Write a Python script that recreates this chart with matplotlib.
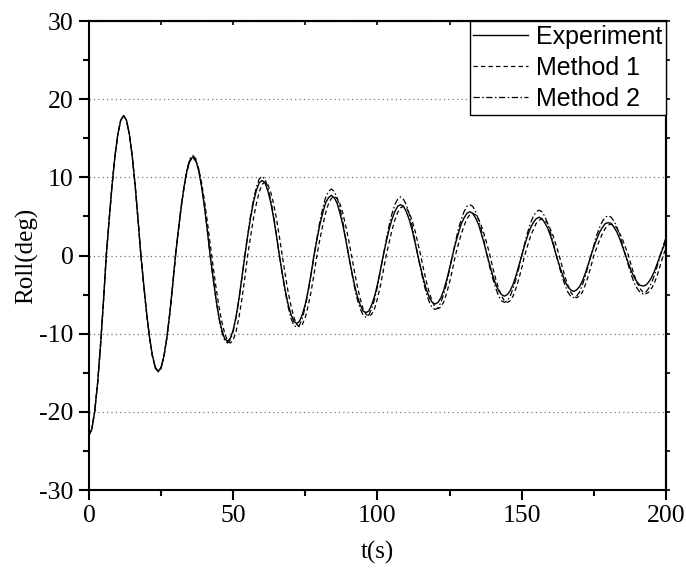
import numpy as np
import matplotlib
matplotlib.use("Agg")
import matplotlib.pyplot as plt
from matplotlib.ticker import MultipleLocator

# Roll decay records, one sample per second from 0 s to 200 s
time_s = np.arange(0, 201, 1)

roll_experiment = [
    -23.0, -22.2, -19.9, -16.3, -11.5, -6.0, 0.0, 4.6, 9.0, 12.7, 15.5, 17.3,
    17.9, 17.3, 15.5, 12.7, 9.0, 4.6, 0.0, -3.8, -7.4, -10.5, -12.8, -14.3,
    -14.8, -14.3, -12.8, -10.5, -7.4, -3.8, 0.0, 3.3, 6.3, 8.9, 10.9, 12.2,
    12.6, 12.2, 10.9, 8.9, 6.3, 3.3, 0.0, -2.8, -5.5, -7.8, -9.5, -10.6,
    -11.0, -10.6, -9.5, -7.8, -5.5, -2.8, 0.0, 2.5, 4.8, 6.8, 8.3, 9.3,
    9.6, 9.3, 8.3, 6.8, 4.8, 2.5, 0.0, -2.3, -4.4, -6.2, -7.5, -8.4,
    -8.7, -8.4, -7.5, -6.2, -4.4, -2.3, 0.0, 2.0, 3.9, 5.4, 6.7, 7.4,
    7.7, 7.4, 6.7, 5.4, 3.9, 2.0, 0.0, -1.9, -3.7, -5.2, -6.3, -7.1,
    -7.3, -7.1, -6.3, -5.2, -3.7, -1.9, 0.0, 1.7, 3.3, 4.6, 5.6, 6.3,
    6.5, 6.3, 5.6, 4.6, 3.3, 1.7, 0.0, -1.6, -3.1, -4.4, -5.4, -6.0,
    -6.2, -6.0, -5.4, -4.4, -3.1, -1.6, 0.0, 1.5, 2.8, 4.0, 4.8, 5.4,
    5.6, 5.4, 4.8, 4.0, 2.8, 1.5, 0.0, -1.3, -2.6, -3.7, -4.5, -5.0,
    -5.2, -5.0, -4.5, -3.7, -2.6, -1.3, 0.0, 1.3, 2.5, 3.5, 4.2, 4.7,
    4.9, 4.7, 4.2, 3.5, 2.5, 1.3, 0.0, -1.2, -2.3, -3.3, -4.0, -4.4,
    -4.6, -4.4, -4.0, -3.3, -2.3, -1.2, 0.0, 1.1, 2.1, 3.0, 3.6, 4.1,
    4.2, 4.1, 3.6, 3.0, 2.1, 1.1, 0.0, -1.0, -2.0, -2.8, -3.4, -3.8,
    -3.9, -3.8, -3.4, -2.8, -2.0, -1.0, 0.0, 1.0, 1.9,
]

roll_method1 = [
    -23.0, -22.2, -19.9, -16.3, -11.5, -6.0, 0.0, 4.6, 9.0, 12.7, 15.5, 17.3,
    17.9, 17.3, 15.5, 12.7, 9.0, 4.6, 0.0, -3.9, -7.5, -10.5, -12.9, -14.4,
    -14.9, -14.4, -12.9, -10.5, -7.5, -3.9, 0.0, 3.2, 6.3, 8.8, 10.8, 12.1,
    12.5, 12.1, 11.1, 9.4, 7.1, 4.4, 1.5, -1.3, -4.0, -6.4, -8.4, -9.9, -10.9,
    -11.2, -10.8, -9.7, -7.9, -5.6, -2.9, 0.0, 2.4, 4.7, 6.6, 8.1, 9.1,
    9.4, 9.1, 8.1, 6.6, 4.7, 2.4, 0.0, -2.4, -4.6, -6.4, -7.9, -8.8,
    -9.1, -8.8, -7.9, -6.4, -4.6, -2.4, 0.0, 2.0, 3.8, 5.4, 6.6, 7.3,
    7.6, 7.3, 6.6, 5.4, 3.8, 2.0, 0.0, -2.0, -3.9, -5.5, -6.8, -7.5,
    -7.8, -7.5, -6.8, -5.5, -3.9, -2.0, 0.0, 1.6, 3.2, 4.5, 5.5, 6.1,
    6.3, 6.1, 5.5, 4.5, 3.2, 1.6, 0.0, -1.8, -3.4, -4.8, -5.9, -6.6,
    -6.8, -6.6, -5.9, -4.8, -3.4, -1.8, 0.0, 1.4, 2.7, 3.8, 4.7, 5.2,
    5.4, 5.2, 4.7, 3.8, 2.7, 1.4, 0.0, -1.6, -3.0, -4.2, -5.2, -5.8,
    -6.0, -5.8, -5.2, -4.2, -3.0, -1.6, 0.0, 1.2, 2.4, 3.3, 4.1, 4.5,
    4.7, 4.5, 4.1, 3.3, 2.4, 1.2, 0.0, -1.4, -2.7, -3.8, -4.7, -5.2,
    -5.4, -5.2, -4.7, -3.8, -2.7, -1.4, 0.0, 1.0, 2.0, 2.8, 3.5, 3.9,
    4.0, 3.9, 3.5, 2.8, 2.0, 1.0, 0.0, -1.3, -2.5, -3.5, -4.2, -4.7,
    -4.9, -4.7, -4.2, -3.5, -2.5, -1.3, 0.0, 0.9,
]

roll_method2 = [
    -23.0, -22.2, -19.9, -16.3, -11.5, -6.0, 0.0, 4.6, 9.0, 12.7, 15.5, 17.3,
    17.9, 17.3, 15.5, 12.7, 9.0, 4.6, 0.0, -3.9, -7.5, -10.5, -12.9, -14.4,
    -14.9, -14.4, -12.9, -10.5, -7.5, -3.9, 0.0, 3.3, 6.4, 9.0, 11.1, 12.4,
    12.8, 12.4, 11.1, 9.0, 6.4, 3.3, 0.0, -2.9, -5.6, -7.9, -9.7, -10.8,
    -11.2, -10.8, -9.7, -7.9, -5.6, -2.9, 0.0, 2.6, 5.1, 7.1, 8.7, 9.8,
    10.1, 9.8, 8.7, 7.1, 5.1, 2.6, 0.0, -2.4, -4.6, -6.5, -8.0, -8.9,
    -9.2, -8.9, -8.0, -6.5, -4.6, -2.4, 0.0, 2.2, 4.3, 6.0, 7.4, 8.2,
    8.5, 8.2, 7.4, 6.0, 4.3, 2.2, 0.0, -2.0, -4.0, -5.6, -6.8, -7.6,
    -7.9, -7.6, -6.8, -5.6, -4.0, -2.0, 0.0, 1.9, 3.8, 5.3, 6.5, 7.2,
    7.5, 7.2, 6.5, 5.3, 3.8, 1.9, 0.0, -1.8, -3.5, -4.9, -6.0, -6.7,
    -6.9, -6.7, -6.0, -4.9, -3.5, -1.8, 0.0, 1.7, 3.3, 4.6, 5.6, 6.3,
    6.5, 6.3, 5.6, 4.6, 3.3, 1.7, 0.0, -1.6, -3.0, -4.2, -5.2, -5.8,
    -6.0, -5.8, -5.2, -4.2, -3.0, -1.6, 0.0, 1.5, 2.9, 4.1, 5.0, 5.6,
    5.8, 5.6, 5.0, 4.1, 2.9, 1.5, 0.0, -1.4, -2.7, -3.8, -4.7, -5.2,
    -5.4, -5.2, -4.7, -3.8, -2.7, -1.4, 0.0, 1.3, 2.6, 3.6, 4.4, 4.9,
    5.1, 4.9, 4.4, 3.6, 2.6, 1.3, 0.0, -1.3, -2.5, -3.5, -4.2, -4.7,
    -4.9, -4.7, -4.2, -3.5, -2.5, -1.3, 0.0, 1.2, 2.3,
]

series_labels = ["Experiment", "Method 1", "Method 2"]
x_label = "t(s)"
y_label = "Roll(deg)"

plt.rcParams["axes.unicode_minus"] = False
serif = ["Liberation Serif", "DejaVu Serif"]
sans = ["Liberation Sans", "DejaVu Sans"]

fig = plt.figure(figsize=(6.86, 5.74), dpi=100)
ax = fig.add_axes([0.1297, 0.1463, 0.8411, 0.8171])

ax.plot(time_s, roll_experiment, color="black", lw=1.0, ls="-",
        label=series_labels[0], zorder=3)
ax.plot(time_s, roll_method1, color="black", lw=0.9, dashes=(3.5, 2.5),
        label=series_labels[1], zorder=3)
ax.plot(time_s, roll_method2, color="black", lw=0.9, dashes=(5, 2, 1.2, 2),
        label=series_labels[2], zorder=3)

ax.set_xlim(0, 200)
ax.set_ylim(-30, 30)
ax.xaxis.set_major_locator(MultipleLocator(50))
ax.xaxis.set_minor_locator(MultipleLocator(25))
ax.yaxis.set_major_locator(MultipleLocator(10))
ax.yaxis.set_minor_locator(MultipleLocator(5))

ax.yaxis.grid(True, which="major", linestyle=(0, (1, 2.5)), color="#777777",
              linewidth=0.9)
ax.set_axisbelow(True)

for sp in ax.spines.values():
    sp.set_linewidth(1.5)
    sp.set_color("black")

# Bottom/left: outward ticks; top/right: short stubs
ax.tick_params(which="both", direction="out", bottom=True, left=True,
               top=False, right=False, width=1.5, color="black")
ax.tick_params(which="major", length=7, pad=4)
ax.tick_params(which="minor", length=4)
ax.tick_params(axis="both", which="major", labelsize=18.5)
for lbl in ax.get_xticklabels() + ax.get_yticklabels():
    lbl.set_family(serif)

sec_x = ax.secondary_xaxis("top")
sec_x.xaxis.set_major_locator(MultipleLocator(50))
sec_x.xaxis.set_minor_locator(MultipleLocator(25))
sec_x.tick_params(which="both", direction="in", length=3, width=1.2,
                  labeltop=False)
sec_y = ax.secondary_yaxis("right")
sec_y.yaxis.set_major_locator(MultipleLocator(10))
sec_y.yaxis.set_minor_locator(MultipleLocator(5))
sec_y.tick_params(which="both", direction="out", length=3, width=1.2,
                  labelright=False)
for sec in (sec_x, sec_y):
    for sp in sec.spines.values():
        sp.set_linewidth(1.5)

ax.set_xlabel(x_label, family=serif, fontsize=18, labelpad=10)
ax.set_ylabel(y_label, family=serif, fontsize=18, labelpad=1)

leg = ax.legend(loc="upper right", bbox_to_anchor=(1.0, 1.0),
                borderaxespad=0.0, prop={"family": sans, "size": 18},
                frameon=True, fancybox=False, framealpha=1.0,
                edgecolor="black", borderpad=0.15, labelspacing=0.28,
                handlelength=2.2, handletextpad=0.3)
leg.get_frame().set_linewidth(1.0)
leg.set_zorder(5)

fig.savefig("out.png", dpi=100)
